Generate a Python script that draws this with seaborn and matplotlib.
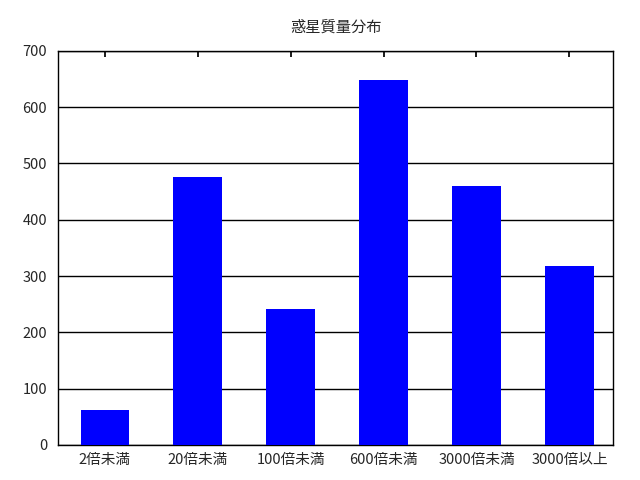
import matplotlib
matplotlib.use("Agg")
import matplotlib.pyplot as plt
import seaborn as sns
import pandas as pd

# 惑星の質量(木星質量比)ごとの数
categories = ["2倍未満", "20倍未満", "100倍未満", "600倍未満", "3000倍未満", "3000倍以上"]
counts = [62, 476, 242, 648, 460, 318]

sns.set_theme(style="white")
plt.rcParams['font.family'] = ['Noto Sans CJK JP', 'DejaVu Sans']

df = pd.DataFrame({"category": categories, "count": counts})

fig = plt.figure(figsize=(6.4, 4.8), dpi=100)
ax = fig.add_axes([0.091, 0.073, 0.867, 0.821])
sns.barplot(data=df, x="category", y="count", color="#0000ff", saturation=1,
            width=0.52, linewidth=0, ax=ax, zorder=3)

ax.set_xlim(-0.5, 5.47)
ax.set_ylim(0, 700)
ax.set_yticks(range(0, 701, 100))
ax.set_xlabel("")
ax.set_ylabel("")
ax.set_title("惑星質量分布", fontsize=11, pad=14)
ax.grid(axis="y", color="black", linewidth=1, zorder=0)
ax.set_axisbelow(True)
for s in ax.spines.values():
    s.set_color("black")
    s.set_linewidth(1)
ax.tick_params(axis="x", direction="in", top=True, bottom=True, length=4,
               color="black", labelsize=10.5, pad=6)
ax.tick_params(axis="y", direction="in", left=False, labelsize=10.5, pad=8)

fig.savefig("out.png", dpi=100)
